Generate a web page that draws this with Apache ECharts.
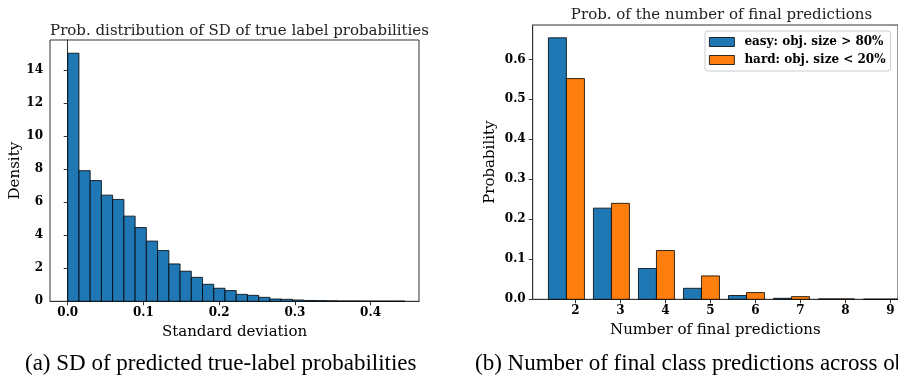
<!DOCTYPE html>
<html>
<head>
<meta charset="utf-8">
<script src="https://cdn.jsdelivr.net/npm/echarts@6/dist/echarts.min.js"></script>
<style>
  html, body { margin: 0; padding: 0; background: #fff; }
  #main { width: 898px; height: 379px; }
</style>
</head>
<body>
<div id="main"></div>
<script>
(function () {
    // left: histogram of SD (30 bins, density)
    var binWidth = 0.01484;
    var sdDensity = [15.0, 7.9, 7.3, 6.42, 6.16, 5.15, 4.46, 3.64, 3.07, 2.26,
        1.82, 1.45, 1.03, 0.79, 0.65, 0.42, 0.36, 0.24, 0.14, 0.12,
        0.08, 0.05, 0.04, 0.03, 0.02, 0.02, 0.015, 0.01, 0.01, 0.01];
    var sdTicks = [0, 0.1, 0.2, 0.3, 0.4];
    var densityTicks = [0, 2, 4, 6, 8, 10, 12, 14];

    // right: number of final predictions
    var nPred = [2, 3, 4, 5, 6, 7, 8, 9];
    var easyProb = [0.654, 0.228, 0.077, 0.0275, 0.0095, 0.0025, 0.001, 0.0003];
    var hardProb = [0.552, 0.24, 0.122, 0.0585, 0.0168, 0.0067, 0.001, 0.0004];
    var probTicks = [0, 0.1, 0.2, 0.3, 0.4, 0.5, 0.6];

    var serif = 'DejaVu Serif';
    var blue = '#1f77b4', orange = '#ff7f0e';

    var histData = sdDensity.map(function (h, i) {
        return [i * binWidth, (i + 1) * binWidth, h];
    });
    var easyData = nPred.map(function (n, i) { return [n, easyProb[i]]; });
    var hardData = nPred.map(function (n, i) { return [n, hardProb[i]]; });

    function rectItem(x0, x1, h, color, api) {
        var p0 = api.coord([x0, h]);
        var p1 = api.coord([x1, 0]);
        return {
            type: 'rect',
            shape: { x: p0[0], y: p0[1], width: p1[0] - p0[0], height: p1[1] - p0[1] },
            style: { fill: color, stroke: '#000', lineWidth: 0.8 }
        };
    }

    var tickLabel = { fontFamily: serif, fontWeight: 'bold', fontSize: 12, color: '#000' };
    var axisName = { fontFamily: serif, fontSize: 15, color: '#000' };

    var myEchart = echarts.init(document.getElementById('main'), null, { renderer: 'canvas' });
    myEchart.setOption({
        animation: false,
        title: [
            { text: 'Prob. distribution of SD of true label probabilities', left: 234.5, top: 19, textAlign: 'center',
              textStyle: { fontFamily: serif, fontSize: 15, fontWeight: 'normal', color: '#222' } },
            { text: 'Prob. of the number of final predictions', left: 716.5, top: 3, textAlign: 'center',
              textStyle: { fontFamily: serif, fontSize: 15, fontWeight: 'normal', color: '#222' } }
        ],
        grid: [
            { left: 50, top: 40, width: 369, height: 261.3, show: true, borderColor: '#333', borderWidth: 1 },
            { left: 532.7, top: 25, width: 367.6, height: 274.3, show: true, borderColor: '#333', borderWidth: 1 }
        ],
        legend: {
            orient: 'vertical',
            left: 705, top: 31,
            itemWidth: 25, itemHeight: 9, itemGap: 6,
            padding: [5, 5, 5, 4],
            borderColor: '#ccc', borderWidth: 1, borderRadius: 3,
            itemStyle: { borderColor: '#000', borderWidth: 0.8 },
            textStyle: { fontFamily: serif, fontWeight: 'bold', fontSize: 12, color: '#000', padding: [0, 0, 0, 5] },
            data: [
                { name: 'easy: obj. size > 80%', icon: 'rect' },
                { name: 'hard: obj. size < 20%', icon: 'rect' }
            ]
        },
        xAxis: [
            { type: 'value', gridIndex: 0, min: -0.0234, max: 0.464,
              name: 'Standard deviation', nameLocation: 'middle', nameGap: 20, nameTextStyle: axisName,
              splitLine: { show: false },
              axisLine: { lineStyle: { color: '#333' } },
              axisTick: { length: 4, lineStyle: { color: '#333' }, customValues: sdTicks },
              axisLabel: Object.assign({ margin: 6, customValues: sdTicks,
                  formatter: function (v) { return v.toFixed(1); } }, tickLabel) },
            { type: 'value', gridIndex: 1, min: 1.051, max: 9.166,
              name: 'Number of final predictions', nameLocation: 'middle', nameGap: 21, nameTextStyle: axisName,
              splitLine: { show: false },
              axisLine: { lineStyle: { color: '#333' } },
              axisTick: { length: 4, lineStyle: { color: '#333' }, customValues: nPred },
              axisLabel: Object.assign({ margin: 6, customValues: nPred }, tickLabel) }
        ],
        yAxis: [
            { type: 'value', gridIndex: 0, min: 0, max: 15.8,
              name: 'Density', nameLocation: 'middle', nameGap: 27, nameTextStyle: axisName,
              splitLine: { show: false },
              axisLine: { show: true, lineStyle: { color: '#333' } },
              axisTick: { show: true, length: 4, lineStyle: { color: '#333' }, customValues: densityTicks },
              axisLabel: Object.assign({ margin: 7, customValues: densityTicks }, tickLabel) },
            { type: 'value', gridIndex: 1, min: 0, max: 0.686,
              name: 'Probability', nameLocation: 'middle', nameGap: 35, nameTextStyle: axisName,
              splitLine: { show: false },
              axisLine: { show: true, lineStyle: { color: '#333' } },
              axisTick: { show: true, length: 4, lineStyle: { color: '#333' }, customValues: probTicks },
              axisLabel: Object.assign({ margin: 7, customValues: probTicks,
                  formatter: function (v) { return v.toFixed(1); } }, tickLabel) }
        ],
        series: [
            { type: 'custom', name: 'sd', xAxisIndex: 0, yAxisIndex: 0, data: histData,
              encode: { x: [0, 1], y: 2 },
              renderItem: function (params, api) {
                  return rectItem(api.value(0), api.value(1), api.value(2), blue, api);
              } },
            { type: 'custom', name: 'easy: obj. size > 80%', xAxisIndex: 1, yAxisIndex: 1, data: easyData,
              itemStyle: { color: blue },
              encode: { x: 0, y: 1 },
              renderItem: function (params, api) {
                  var n = api.value(0);
                  return rectItem(n - 0.6, n - 0.2, api.value(1), blue, api);
              } },
            { type: 'custom', name: 'hard: obj. size < 20%', xAxisIndex: 1, yAxisIndex: 1, data: hardData,
              itemStyle: { color: orange },
              encode: { x: 0, y: 1 },
              renderItem: function (params, api) {
                  var n = api.value(0);
                  return rectItem(n - 0.2, n + 0.2, api.value(1), orange, api);
              } }
        ],
        graphic: [
            { type: 'text', left: 25, top: 352,
              style: { text: '(a) SD of predicted true-label probabilities', font: '23px "Liberation Serif"', fill: '#000' } },
            { type: 'text', left: 475, top: 352,
              style: { text: '(b) Number of final class predictions across object sizes', font: '23px "Liberation Serif"', fill: '#000' } }
        ]
    });
})();
</script>
</body>
</html>
